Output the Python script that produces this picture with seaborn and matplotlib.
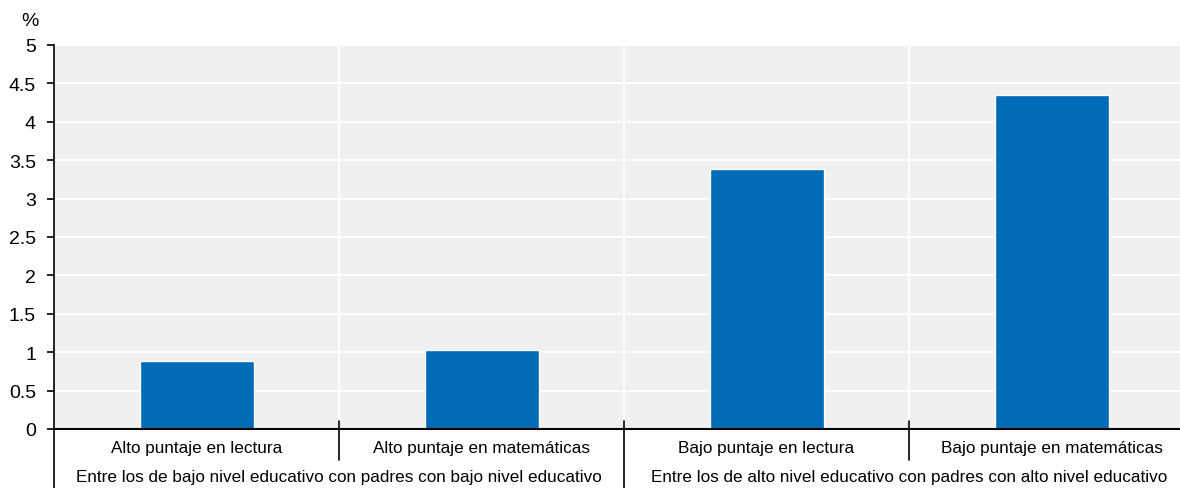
import matplotlib
matplotlib.use("Agg")
import matplotlib.pyplot as plt
import seaborn as sns
import pandas as pd
from matplotlib import font_manager

categories = ["Alto puntaje en lectura", "Alto puntaje en matemáticas",
              "Bajo puntaje en lectura", "Bajo puntaje en matemáticas"]
values = [0.89, 1.03, 3.39, 4.35]
groups = ["Entre los de bajo nivel educativo con padres con bajo nivel educativo",
          "Entre los de alto nivel educativo con padres con alto nivel educativo"]
group_of = [0, 0, 1, 1]
yticks = [0, 0.5, 1, 1.5, 2, 2.5, 3, 3.5, 4, 4.5, 5]
ytick_labels = ["0", "0.5", "1", "1.5", "2", "2.5", "3", "3.5", "4", "4.5", "5"]

sns.set_theme(style="white")
avail = {f.name for f in font_manager.fontManager.ttflist}
fam = "Liberation Sans Narrow" if "Liberation Sans Narrow" in avail else "Liberation Sans"
plt.rcParams["font.family"] = [fam, "DejaVu Sans"]

df = pd.DataFrame({"cat": categories, "val": values})

fig = plt.figure(figsize=(11.8, 4.89), dpi=100)
ax = fig.add_axes([54/1180, 59/489, 1140/1180, (430-46)/489])
ax.set_facecolor("#f0f0f0")
sns.barplot(data=df, x="cat", y="val", color="#006bb6", width=0.4, saturation=1, ax=ax)
ax.set_xlim(-0.5, len(categories) - 0.5)
ax.set_ylim(0, 5)
ax.set_yticks(yticks)
ax.set_yticklabels(ytick_labels, fontsize=14)
for y in yticks[1:]:
    ax.axhline(y, color="white", lw=1.3, zorder=0.5)
for i in range(1, len(categories)):
    ax.axvline(i - 0.5, color="white", lw=1.3, zorder=0.5)
ax.set_xlabel("")
ax.set_ylabel("")
ax.set_xticks([])
for s in ["top", "right"]:
    ax.spines[s].set_visible(False)
ax.spines["left"].set_color("black")
ax.spines["bottom"].set_color("black")
ax.spines["left"].set_linewidth(1.2)
ax.spines["bottom"].set_linewidth(1.5)
ax.tick_params(axis="y", left=True, length=5, width=1.2, color="black", pad=8, labelcolor="black")

trans = ax.get_xaxis_transform()
# category labels
for i, c in enumerate(categories):
    ax.text(i, -0.047, c, transform=trans, ha="center", va="center", fontsize=12.3, color="black")
# group labels
for g, name in enumerate(groups):
    idx = [i for i, gg in enumerate(group_of) if gg == g]
    ax.text(sum(idx) / len(idx), -0.125, name, transform=trans, ha="center", va="center",
            fontsize=12.3, color="black")
# separators
for i in range(len(categories)):
    xpos = i - 0.5
    is_group_start = i == 0 or group_of[i] != group_of[i - 1]
    bottom = -0.155 if is_group_start else -0.08
    ax.plot([xpos, xpos], [0.02 if i > 0 else 0, bottom], transform=trans, color="black",
            lw=1.2, clip_on=False)

fig.text(30/1180, 1 - 22/489, "%", ha="center", va="center", fontsize=14, color="black")
fig.savefig("out.png", dpi=100)
